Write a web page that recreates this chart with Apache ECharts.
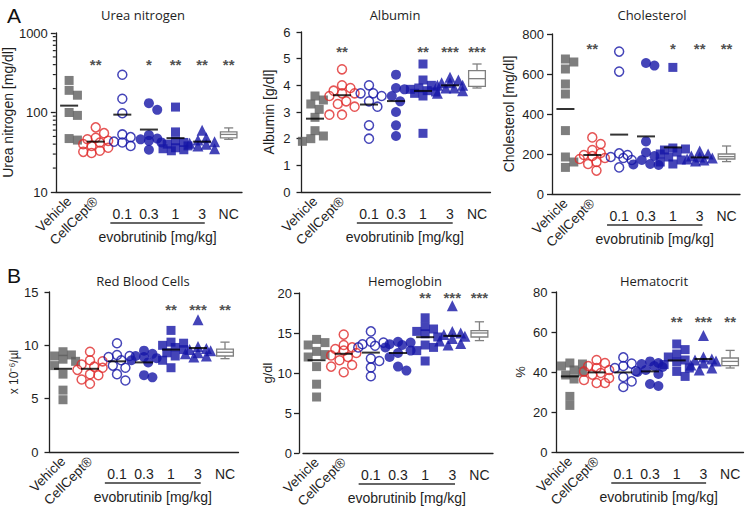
<!DOCTYPE html>
<html><head><meta charset="utf-8">
<script src="https://cdn.jsdelivr.net/npm/echarts@6/dist/echarts.min.js"></script>
<style>html,body{margin:0;padding:0;background:#fff}#c{width:747px;height:513px}</style>
</head><body><div id="c"></div>
<script>
// ---------- DATA ----------
const categories = ['Vehicle', 'CellCept®', '0.1', '0.3', '1', '3', 'NC'];
const doseLabel = 'evobrutinib [mg/kg]';

// Urea nitrogen [mg/dl]
const ureaVehicle = [253, 190, 165, 100, 92, 47, 45];
const ureaCellCept = [65, 55, 48, 46, 44, 42, 40, 38, 36, 33, 32, 31];
const ureaEvo01 = [298, 149, 98, 53, 49, 43, 42, 38];
const ureaEvo03 = [131, 108, 52, 47, 46, 44, 42, 34];
const ureaEvo1 = [117, 57, 44, 42, 40, 38, 36, 35, 34, 33];
const ureaEvo3 = [60, 48, 45, 43, 41, 40, 38, 35];
const ureaNCBox = [46, 48, 53, 57, 64];
const ureaMeans = [122, 43, 94, 61, 47.6, 43];
const ureaStars = ['', '**', '', '*', '**', '**', '**'];
const ureaStarLevel = 400;

// Albumin [g/dl]
const albVehicle = [3.6, 3.45, 3.3, 3.1, 2.8, 2.3, 2.1, 2.0, 1.9];
const albCellCept = [4.6, 4.0, 3.9, 3.8, 3.7, 3.7, 3.6, 3.4, 3.3, 3.2, 2.9, 2.9];
const albEvo01 = [4.0, 3.7, 3.7, 3.6, 3.4, 3.2, 2.5, 2.0];
const albEvo03 = [4.4, 3.9, 3.85, 3.6, 3.4, 3.0, 2.5, 2.1];
const albEvo1 = [4.8, 4.2, 4.0, 3.9, 3.85, 3.8, 3.75, 3.7, 3.6, 2.2];
const albEvo3 = [4.3, 4.2, 4.1, 4.1, 4.0, 4.0, 3.9, 3.9, 3.8, 3.7];
const albNCBox = [3.9, 3.96, 4.25, 4.55, 4.8];
const albMeans = [2.75, 3.63, 3.28, 3.41, 3.79, 4.0];
const albStars = ['', '**', '', '', '**', '***', '***'];
const albStarLevel = 5.26;

// Cholesterol [mg/dl]
const cholVehicle = [675, 660, 625, 550, 500, 317, 185, 160, 133];
const cholCellCept = [283, 250, 220, 205, 195, 190, 180, 175, 160, 150, 117];
const cholEvo01 = [712, 612, 203, 195, 185, 180, 170, 133];
const cholEvo03 = [655, 642, 263, 208, 190, 170, 150, 148, 145];
const cholEvo1 = [633, 230, 225, 220, 210, 200, 185, 170, 160, 150];
const cholEvo3 = [215, 200, 190, 185, 180, 175, 170, 165];
const cholNCBox = [162, 175, 187, 200, 240];
const cholMeans = [425, 195, 297, 288, 233, 183];
const cholStars = ['', '**', '', '', '*', '**', '**'];
const cholStarLevel = 727;

// Red Blood Cells [x10^-6/µl]
const rbcVehicle = [9.4, 9.1, 9.0, 8.7, 8.5, 8.1, 7.3, 5.8, 4.9];
const rbcCellCept = [9.4, 8.6, 8.5, 8.2, 8.0, 7.9, 7.7, 7.3, 7.2, 6.8, 6.4];
const rbcEvo01 = [10.2, 9.1, 9.0, 8.9, 8.6, 8.1, 7.9, 7.3, 6.7];
const rbcEvo03 = [9.5, 9.2, 9.0, 8.9, 8.8, 8.6, 8.4, 7.2, 7.0];
const rbcEvo1 = [11.4, 10.3, 10.2, 10.0, 9.8, 9.6, 9.3, 9.0, 8.6, 7.9];
const rbcEvo3 = [12.4, 9.9, 9.7, 9.6, 9.5, 9.3, 9.2, 9.0, 8.9];
const rbcNCBox = [8.75, 9.0, 9.35, 9.65, 10.3];
const rbcMeans = [7.8, 7.8, 8.5, 8.4, 9.6, 9.75];
const rbcStars = ['', '', '', '', '**', '***', '**'];
const rbcStarLevel = 13.35;

// Hemoglobin [g/dl]
const hbVehicle = [14.2, 13.8, 13.5, 12.7, 12.3, 12.0, 10.8, 8.6, 7.0];
const hbCellCept = [14.8, 13.5, 13.2, 13.0, 12.8, 12.5, 12.2, 12.0, 11.6, 11.0, 10.8, 10.1];
const hbEvo01 = [15.2, 13.9, 13.8, 13.6, 13.4, 13.2, 11.8, 11.5, 10.7, 9.6];
const hbEvo03 = [13.9, 13.8, 13.6, 13.5, 13.2, 12.8, 12.5, 12.0, 10.8, 10.3];
const hbEvo1 = [16.9, 15.8, 15.5, 15.2, 14.9, 14.5, 13.5, 13.2, 12.8, 11.5];
const hbEvo3 = [18.4, 15.2, 15.0, 14.8, 14.6, 14.3, 14.0, 13.7, 13.5];
const hbNCBox = [14.05, 14.5, 15.0, 15.3, 16.4];
const hbMeans = [11.6, 12.4, 12.55, 12.5, 14.48, 14.64];
const hbStars = ['', '', '', '', '**', '***', '***'];
const hbStarLevel = 19.5;

// Hematocrit [%]
const hctVehicle = [44.5, 44, 43, 41, 40, 38.5, 36.5, 27.8, 23.3];
const hctCellCept = [46, 44.5, 43, 42, 41, 40.3, 39.5, 38.7, 37, 36, 34.5, 34.5];
const hctEvo01 = [47.3, 44.2, 43, 42, 40.5, 37.5, 35.3, 32.5];
const hctEvo03 = [45.3, 44.5, 44, 43, 42.5, 41, 40, 39, 34, 33];
const hctEvo1 = [54, 51.2, 49, 47.5, 46, 45, 43.7, 42, 40.3, 37.8];
const hctEvo3 = [58.2, 47.5, 46.5, 46, 45.5, 44.5, 43.5, 42, 41];
const hctNCBox = [42, 43.2, 45.3, 47, 50.8];
const hctMeans = [37.8, 39.8, 39.8, 40.3, 45.8, 46.5];
const hctStars = ['', '', '', '', '**', '***', '**'];
const hctStarLevel = 65.4;

// ---------- PANELS ----------
const panels = [
  {title: 'Urea nitrogen', yName: 'Urea nitrogen [mg/dl]', log: true, min: 10, max: 1000,
   groups: [ureaVehicle, ureaCellCept, ureaEvo01, ureaEvo03, ureaEvo1, ureaEvo3], box: ureaNCBox, means: ureaMeans, stars: ureaStars, starLevel: ureaStarLevel},
  {title: 'Albumin', yName: 'Albumin [g/dl]', min: 0, max: 6, interval: 1,
   groups: [albVehicle, albCellCept, albEvo01, albEvo03, albEvo1, albEvo3], box: albNCBox, means: albMeans, stars: albStars, starLevel: albStarLevel},
  {title: 'Cholesterol', yName: 'Cholesterol [mg/dl]', min: 0, max: 800, interval: 200,
   groups: [cholVehicle, cholCellCept, cholEvo01, cholEvo03, cholEvo1, cholEvo3], box: cholNCBox, means: cholMeans, stars: cholStars, starLevel: cholStarLevel},
  {title: 'Red Blood Cells', yName: 'x 10⁻⁶/µl', min: 0, max: 15, interval: 5,
   groups: [rbcVehicle, rbcCellCept, rbcEvo01, rbcEvo03, rbcEvo1, rbcEvo3], box: rbcNCBox, means: rbcMeans, stars: rbcStars, starLevel: rbcStarLevel},
  {title: 'Hemoglobin', yName: 'g/dl', min: 0, max: 20, interval: 5,
   groups: [hbVehicle, hbCellCept, hbEvo01, hbEvo03, hbEvo1, hbEvo3], box: hbNCBox, means: hbMeans, stars: hbStars, starLevel: hbStarLevel},
  {title: 'Hematocrit', yName: '%', min: 0, max: 80, interval: 20,
   groups: [hctVehicle, hctCellCept, hctEvo01, hctEvo03, hctEvo1, hctEvo3], box: hctNCBox, means: hctMeans, stars: hctStars, starLevel: hctStarLevel}
];

// ---------- LAYOUT / STYLE ----------
const LAYOUT = [
  {left: 54, top: 33, width: 188, height: 159, titleX: 138, titleY: 3, nameGap: 33, labelMargin: 8, nameSize: 14},
  {left: 301.5, top: 32, width: 189, height: 160, titleX: 390, titleY: 3, nameGap: 26, labelMargin: 11, nameSize: 14},
  {left: 552, top: 34, width: 188, height: 160, titleX: 647, titleY: 3, nameGap: 36, labelMargin: 8, nameSize: 14},
  {left: 49.5, top: 292, width: 189, height: 160, titleX: 138, titleY: 269, nameGap: 28, labelMargin: 11, nameSize: 12},
  {left: 303, top: 293, width: 190, height: 160, titleX: 400, titleY: 269, nameGap: 24, labelMargin: 7, nameSize: 13, yOffset: 4},
  {left: 556.5, top: 292, width: 187, height: 160, titleX: 649, titleY: 269, nameGap: 30, labelMargin: 9, nameSize: 13}
];
const FONT = "'Liberation Sans', Arial, sans-serif";
const TITLE_FONT = "'Open Sans', Lato, sans-serif";
const TXT = '#1e1e1e';
const AX = '#222';
const GRAY = '#5e5e5e';
const RED = '#e02b2b';
const BLUE = '#1515a6';
const BOXC = '#808080';
const GROUP_STYLES = [
  {symbol: 'rect', size: 9, itemStyle: {color: GRAY}},
  {symbol: 'circle', size: 9, itemStyle: {color: 'rgba(255,255,255,0)', borderColor: RED, borderWidth: 1.5}},
  {symbol: 'circle', size: 9, itemStyle: {color: 'rgba(255,255,255,0)', borderColor: BLUE, borderWidth: 1.5}},
  {symbol: 'circle', size: 10, itemStyle: {color: BLUE}},
  {symbol: 'rect', size: 9, itemStyle: {color: BLUE}},
  {symbol: 'triangle', size: 11, itemStyle: {color: BLUE}}
];

// Beeswarm-style horizontal spreading of overlapping points (deterministic, from the values)
function swarmOffsets(values, toPx, band) {
  const placed = [];
  const off = new Array(values.length).fill(0);
  const D = 8.5, step = 4.2, maxK = 3;
  values.forEach((v, i) => {
    const y = toPx(v);
    const cands = [0];
    for (let k = 1; k <= maxK; k++) cands.push(k * step, -k * step);
    let best = 0, bestD = -1;
    for (const c of cands) {
      let md = Infinity;
      for (const p of placed) { const d = Math.hypot(c - p[0], y - p[1]); if (d < md) md = d; }
      if (md >= D) { best = c; bestD = md; break; }
      if (md > bestD) { bestD = md; best = c; }
    }
    placed.push([best, y]);
    off[i] = best / band;
  });
  return off;
}

const grids = [], xAxes = [], yAxes = [], series = [], titles = [];
panels.forEach((p, k) => {
  const L = LAYOUT[k];
  grids.push({left: L.left, top: L.top, width: L.width, height: L.height, containLabel: false});
  const lineStyle = {color: AX, width: 1.3};
  xAxes.push({gridIndex: k, type: 'category', data: categories, position: 'bottom',
    axisLine: {onZero: false, lineStyle}, axisTick: {alignWithLabel: true, length: 5, lineStyle},
    axisLabel: {interval: 0, rotate: 45, margin: 7, fontSize: 13.5, color: TXT, fontFamily: FONT,
      formatter: (v, i) => i < 2 ? v : ''}});
  xAxes.push({gridIndex: k, type: 'category', data: categories, position: 'bottom',
    axisLine: {show: false, onZero: false}, axisTick: {show: false},
    axisLabel: {interval: 0, margin: 15, fontSize: 14, color: TXT, fontFamily: FONT,
      formatter: (v, i) => i >= 2 ? v : ''}});
  xAxes.push({gridIndex: k, type: 'value', min: -0.5, max: 6.5, show: false, axisLine: {onZero: false}});
  const y = {gridIndex: k, type: p.log ? 'log' : 'value', min: p.min, max: p.max,
    offset: L.yOffset || 0,
    name: p.yName, nameLocation: 'middle', nameGap: L.nameGap,
    nameTextStyle: {fontSize: L.nameSize, color: TXT, fontFamily: FONT},
    axisLine: {show: true, onZero: false, lineStyle}, axisTick: {show: true, length: 5, lineStyle},
    splitLine: {show: false},
    axisLabel: {fontSize: 13, color: TXT, fontFamily: FONT, margin: L.labelMargin, formatter: v => String(v)}};
  if (p.log) y.logBase = 10; else y.interval = p.interval;
  yAxes.push(y);

  const xi = k * 3 + 2;
  const band = L.width / 7;
  const toPx = p.log
    ? v => (Math.log10(v) - Math.log10(p.min)) / (Math.log10(p.max) - Math.log10(p.min)) * L.height
    : v => (v - p.min) / (p.max - p.min) * L.height;

  p.groups.forEach((vals, g) => {
    const off = swarmOffsets(vals, toPx, band);
    const st = GROUP_STYLES[g];
    series.push({type: 'scatter', xAxisIndex: xi, yAxisIndex: k, symbol: st.symbol, symbolSize: st.size,
      itemStyle: st.itemStyle, z: 2, silent: true,
      data: vals.map((v, i) => [g + off[i], v])});
  });
  series.push({type: 'scatter', xAxisIndex: xi, yAxisIndex: k, symbol: 'rect', symbolSize: [18, 2],
    itemStyle: {color: '#000'}, z: 5, silent: true,
    data: p.means.map((m, g) => [g, m])});
  series.push({type: 'custom', xAxisIndex: xi, yAxisIndex: k, z: 3, clip: false, silent: true,
    encode: {x: 0, y: [1, 2, 3, 4, 5]},
    data: [[6].concat(p.box)],
    renderItem: (params, api) => {
      const x = api.value(0);
      const yy = v => api.coord([x, v])[1];
      const cx = api.coord([x, api.value(3)])[0];
      const w = api.size([1, 0])[0];
      const bw = w * 0.62, cw = w * 0.34;
      const mn = yy(api.value(1)), q1 = yy(api.value(2)), md = yy(api.value(3)), q3 = yy(api.value(4)), mx = yy(api.value(5));
      const s = {stroke: BOXC, lineWidth: 1.3, fill: null};
      return {type: 'group', children: [
        {type: 'line', shape: {x1: cx, y1: q3, x2: cx, y2: mx}, style: s},
        {type: 'line', shape: {x1: cx, y1: q1, x2: cx, y2: mn}, style: s},
        {type: 'line', shape: {x1: cx - cw / 2, y1: mx, x2: cx + cw / 2, y2: mx}, style: s},
        {type: 'line', shape: {x1: cx - cw / 2, y1: mn, x2: cx + cw / 2, y2: mn}, style: s},
        {type: 'rect', shape: {x: cx - bw / 2, y: q3, width: bw, height: q1 - q3}, style: {stroke: BOXC, lineWidth: 1.3, fill: '#fff'}},
        {type: 'line', shape: {x1: cx - bw / 2, y1: md, x2: cx + bw / 2, y2: md}, style: s}
      ]};
    }});
  series.push({type: 'scatter', xAxisIndex: xi, yAxisIndex: k, symbol: 'circle', symbolSize: 1, silent: true, z: 6,
    itemStyle: {color: 'rgba(255,255,255,0)'},
    label: {show: true, position: 'inside', formatter: d => d.data[2], fontSize: 15, fontWeight: 'bold', lineHeight: 13,
      color: '#222', textBorderWidth: 0, textBorderColor: 'transparent', fontFamily: FONT},
    data: p.stars.map((s, i) => [i, p.starLevel, s]).filter(d => d[2])});
  if (p.log) {
    const minorVals = [];
    for (let dec = p.min; dec < p.max; dec *= 10) for (let m = 2; m <= 9; m++) minorVals.push(dec * m);
    series.push({type: 'custom', xAxisIndex: xi, yAxisIndex: k, clip: false, silent: true, z: 1,
      encode: {x: 0, y: 1},
      data: minorVals.map(v => [-0.5, v]),
      renderItem: (params, api) => {
        const pt = api.coord([api.value(0), api.value(1)]);
        return {type: 'line', shape: {x1: pt[0] - 3, y1: pt[1], x2: pt[0], y2: pt[1]}, style: {stroke: AX, lineWidth: 1.2}};
      }});
  }
  titles.push({text: p.title, left: L.titleX, top: L.titleY, textAlign: 'center',
    textStyle: {fontSize: 13, fontWeight: 'normal', fontFamily: TITLE_FONT, color: TXT}});
});
titles.push({text: 'A', left: 2, top: 0, textStyle: {fontSize: 21, fontWeight: 'normal', fontFamily: FONT, color: '#111'}});
titles.push({text: 'B', left: 2, top: 260, textStyle: {fontSize: 21, fontWeight: 'normal', fontFamily: FONT, color: '#111'}});

const chart = echarts.init(document.getElementById('c'), null, {renderer: 'svg', width: 747, height: 513});
chart.setOption({animation: false, backgroundColor: '#fff', title: titles, grid: grids, xAxis: xAxes, yAxis: yAxes, series});

// Dose underline + label, positioned from the axes
const graphics = [];
panels.forEach((p, k) => {
  const L = LAYOUT[k];
  const xi = k * 3 + 2;
  const x1 = chart.convertToPixel({xAxisIndex: xi}, 1.55);
  const x2 = chart.convertToPixel({xAxisIndex: xi}, 5.1);
  const yb = L.top + L.height;
  graphics.push({type: 'line', shape: {x1, y1: yb + 31, x2, y2: yb + 31}, style: {stroke: '#333', lineWidth: 1.3}, silent: true});
  graphics.push({type: 'text', x: (x1 + x2) / 2, y: yb + 45, silent: true,
    style: {text: doseLabel, textAlign: 'center', align: 'center', textVerticalAlign: 'middle', verticalAlign: 'middle',
      fontSize: 14, fontFamily: FONT, fill: TXT}});
});
chart.setOption({graphic: graphics});
</script>
</body></html>
